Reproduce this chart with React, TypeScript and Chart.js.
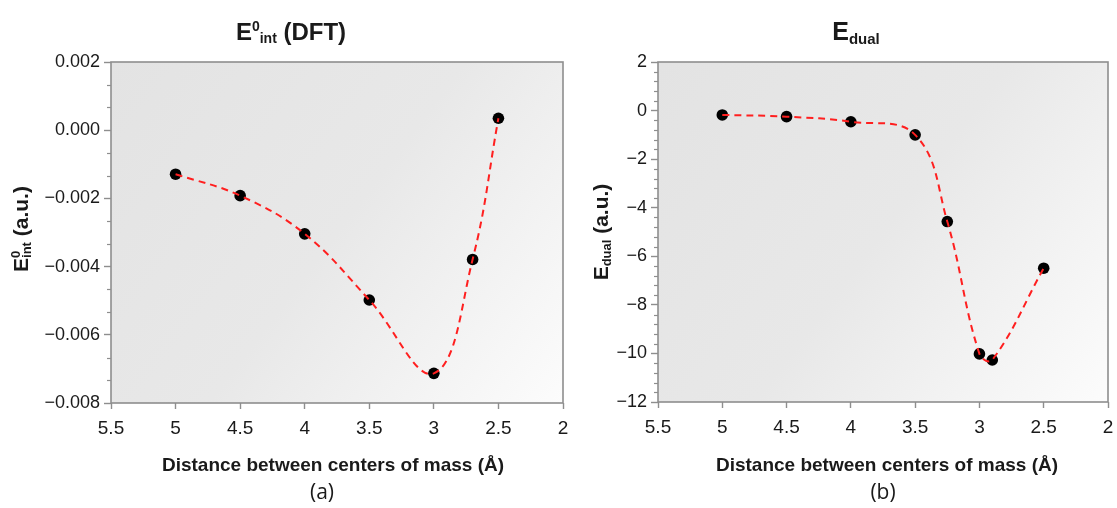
import React, { useEffect, useRef } from 'react';
import { Chart, registerables } from 'chart.js';

Chart.register(...registerables);

// ---------------- data ----------------
const distanceA = [5, 4.5, 4, 3.5, 3, 2.7, 2.5];
const energyDFT = [-0.00129, -0.00192, -0.00304, -0.00498, -0.00713, -0.00379, 0.00035];
const distanceB = [5, 4.5, 4, 3.5, 3.25, 3, 2.9, 2.5];
const energyDual = [-0.18, -0.25, -0.46, -1.0, -4.57, -10.02, -10.27, -6.49];
const xTickValues = [5.5, 5, 4.5, 4, 3.5, 3, 2.5, 2];
const yTicksA = [0.002, 0, -0.002, -0.004, -0.006, -0.008];
const yTicksB = [2, 0, -2, -4, -6, -8, -10, -12];
const xAxisTitle = 'Distance between centers of mass (Å)';
const captionA = '(a)';
const captionB = '(b)';

// ---------------- styling ----------------
const FAMILY = '"Liberation Sans", Arial, Helvetica, sans-serif';
const CAPTION_FAMILY = '"Open Sans", "Noto Sans", sans-serif';
const FRAME = '#8e8e8e';
const TEXT = '#1a1a1a';
const LINE_RED = '#ff1f1f';
const H = 508;

type Seg = { t: string; k?: 'sup' | 'sub'; stack?: boolean };

function drawRich(
  ctx: CanvasRenderingContext2D,
  segs: Seg[],
  x: number,
  y: number,
  size: number,
  weight: string,
) {
  const small = Math.round(size * 0.6);
  const font = (s: number) => `${weight} ${s}px ${FAMILY}`;
  const items: { t: string; k?: string; s: number; start: number }[] = [];
  let cursor = 0;
  let prevStart = 0;
  for (const sg of segs) {
    const s = sg.k ? small : size;
    ctx.font = font(s);
    const w = ctx.measureText(sg.t).width;
    const start = sg.stack ? prevStart : cursor;
    items.push({ t: sg.t, k: sg.k, s, start });
    cursor = sg.stack ? Math.max(cursor, start + w) : start + w;
    prevStart = start;
  }
  const x0 = x - cursor / 2;
  ctx.textAlign = 'left';
  ctx.textBaseline = 'alphabetic';
  ctx.fillStyle = TEXT;
  for (const it of items) {
    ctx.font = font(it.s);
    const dy = it.k === 'sup' ? -size * 0.36 : it.k === 'sub' ? size * 0.14 : 0;
    ctx.fillText(it.t, x0 + it.start, y + dy);
  }
}

interface Panel {
  left: number;
  width: number;
  plotLeft: number;
  plotRight: number;
  plotTop: number;
  plotBottom: number;
  xs: number[];
  ys: number[];
  yTicks: number[];
  minorDiv: number;
  fmt: (v: number) => string;
  title: Seg[];
  titleX: number;
  titleY: number;
  titleSize: number;
  yTitle: Seg[];
  yTitleX: number;
  yTitleY: number;
  yTitleSize: number;
  xTitleX: number;
  xTitleY: number;
  caption: string;
  captionX: number;
  captionY: number;
}

const minus = (v: number) => (v < 0 ? '\u2212' : '');

const panelA: Panel = {
  left: 0,
  width: 580,
  plotLeft: 111,
  plotRight: 563,
  plotTop: 62,
  plotBottom: 403,
  xs: distanceA,
  ys: energyDFT,
  yTicks: yTicksA,
  minorDiv: 3,
  fmt: (v) => (Math.abs(v) < 1e-12 ? '0.000' : minus(v) + Math.abs(v).toFixed(3)),
  title: [{ t: 'E' }, { t: '0', k: 'sup' }, { t: 'int', k: 'sub' }, { t: ' (DFT)' }],
  titleX: 291,
  titleY: 40,
  titleSize: 24,
  yTitle: [{ t: 'E' }, { t: '0', k: 'sup' }, { t: 'int', k: 'sub', stack: true }, { t: ' (a.u.)' }],
  yTitleX: 28,
  yTitleY: 229,
  yTitleSize: 21,
  xTitleX: 333,
  xTitleY: 466,
  caption: captionA,
  captionX: 322,
  captionY: 493,
};

const panelB: Panel = {
  left: 565,
  width: 552,
  plotLeft: 658,
  plotRight: 1108,
  plotTop: 62,
  plotBottom: 402,
  xs: distanceB,
  ys: energyDual,
  yTicks: yTicksB,
  minorDiv: 5,
  fmt: (v) => minus(v) + String(Math.abs(v)),
  title: [{ t: 'E' }, { t: 'dual', k: 'sub' }],
  titleX: 856,
  titleY: 40,
  titleSize: 25,
  yTitle: [{ t: 'E' }, { t: 'dual', k: 'sub' }, { t: ' (a.u.)' }],
  yTitleX: 608,
  yTitleY: 232,
  yTitleSize: 21,
  xTitleX: 887,
  xTitleY: 466,
  caption: captionB,
  captionX: 883,
  captionY: 493,
};

function makeDecor(p: Panel) {
  return {
    id: 'decor',
    beforeDatasetsDraw(chart: any) {
      const { ctx, chartArea: a } = chart;
      ctx.save();
      const g = ctx.createLinearGradient(a.left, a.top, a.right, a.bottom);
      g.addColorStop(0, '#e3e3e3');
      g.addColorStop(0.5, '#e8e8e8');
      g.addColorStop(1, '#fcfcfc');
      ctx.fillStyle = g;
      ctx.fillRect(a.left, a.top, a.right - a.left, a.bottom - a.top);
      ctx.restore();
    },
    afterDraw(chart: any) {
      const { ctx, chartArea: a } = chart;
      const yScale = chart.scales.y;
      ctx.save();
      // frame
      ctx.strokeStyle = FRAME;
      ctx.lineWidth = 1.6;
      ctx.strokeRect(a.left, a.top, a.right - a.left, a.bottom - a.top);
      // minor ticks on y
      ctx.lineWidth = 1.2;
      const ticks = p.yTicks.slice().sort((m, n) => m - n);
      for (let i = 0; i < ticks.length - 1; i++) {
        const step = (ticks[i + 1] - ticks[i]) / p.minorDiv;
        for (let j = 1; j < p.minorDiv; j++) {
          const py = Math.round(yScale.getPixelForValue(ticks[i] + step * j)) + 0.5;
          ctx.beginPath();
          ctx.moveTo(a.left - 4, py);
          ctx.lineTo(a.left, py);
          ctx.stroke();
        }
      }
      // title
      drawRich(ctx, p.title, p.titleX - p.left, p.titleY, p.titleSize, 'bold');
      // y title
      ctx.save();
      ctx.translate(p.yTitleX - p.left, p.yTitleY);
      ctx.rotate(-Math.PI / 2);
      drawRich(ctx, p.yTitle, 0, 0, p.yTitleSize, 'bold');
      ctx.restore();
      // x title
      ctx.fillStyle = TEXT;
      ctx.textAlign = 'center';
      ctx.textBaseline = 'middle';
      ctx.font = `bold 19px ${FAMILY}`;
      ctx.fillText(xAxisTitle, p.xTitleX - p.left, p.xTitleY);
      // caption
      ctx.font = `21px ${CAPTION_FAMILY}`;
      ctx.fillText(p.caption, p.captionX - p.left, p.captionY);
      ctx.restore();
    },
  };
}

function buildChart(canvas: HTMLCanvasElement, p: Panel) {
  const pts = p.xs.map((x, i) => ({ x, y: p.ys[i] }));
  const yMin = Math.min(...p.yTicks);
  const yMax = Math.max(...p.yTicks);
  return new Chart(canvas, {
    type: 'scatter',
    data: {
      datasets: [
        {
          label: 'curve',
          data: pts,
          showLine: true,
          borderColor: LINE_RED,
          borderWidth: 2,
          borderDash: [7, 5],
          tension: 0.4,
          pointRadius: 0,
          pointHoverRadius: 0,
          fill: false,
          order: 0,
        },
        {
          label: 'points',
          data: pts,
          showLine: false,
          pointRadius: 5.8,
          pointBackgroundColor: '#000000',
          pointBorderColor: '#000000',
          pointBorderWidth: 0,
          order: 1,
        },
      ],
    },
    options: {
      animation: false,
      responsive: false,
      maintainAspectRatio: false,
      events: [],
      layout: {
        padding: {
          left: 0,
          top: p.plotTop,
          right: p.width - (p.plotRight - p.left),
          bottom: 0,
        },
      },
      plugins: {
        legend: { display: false },
        tooltip: { enabled: false },
        title: { display: false },
      },
      scales: {
        x: {
          type: 'linear',
          reverse: true,
          min: Math.min(...xTickValues),
          max: Math.max(...xTickValues),
          afterBuildTicks: (s: any) => {
            s.ticks = xTickValues.map((v) => ({ value: v }));
          },
          afterFit: (s: any) => {
            s.height = H - p.plotBottom;
            s.paddingLeft = 0;
            s.paddingRight = 0;
          },
          ticks: {
            autoSkip: false,
            maxRotation: 0,
            minRotation: 0,
            padding: 8,
            color: TEXT,
            font: { family: FAMILY, size: 19 },
            callback: (v: any) => String(v),
          },
          grid: {
            display: true,
            drawOnChartArea: false,
            drawTicks: true,
            tickLength: 6,
            tickColor: FRAME,
            tickWidth: 1.4,
          },
          border: { display: false },
        },
        y: {
          type: 'linear',
          min: yMin,
          max: yMax,
          afterBuildTicks: (s: any) => {
            s.ticks = p.yTicks.map((v) => ({ value: v }));
          },
          afterFit: (s: any) => {
            s.width = p.plotLeft - p.left;
            s.paddingTop = 0;
            s.paddingBottom = 0;
          },
          ticks: {
            autoSkip: false,
            padding: 4,
            color: TEXT,
            font: { family: FAMILY, size: 18 },
            callback: (v: any) => p.fmt(Number(v)),
          },
          grid: {
            display: true,
            drawOnChartArea: false,
            drawTicks: true,
            tickLength: 7,
            tickColor: FRAME,
            tickWidth: 1.4,
          },
          border: { display: false },
        },
      },
    },
    plugins: [makeDecor(p)],
  } as any);
}

function PanelCanvas({ p }: { p: Panel }) {
  const ref = useRef<HTMLCanvasElement | null>(null);
  useEffect(() => {
    if (!ref.current) return;
    const chart = buildChart(ref.current, p);
    return () => chart.destroy();
  }, [p]);
  return (
    <canvas
      ref={ref}
      width={p.width}
      height={H}
      style={{ position: 'absolute', left: p.left, top: 0, width: p.width, height: H }}
    />
  );
}

export default function App() {
  return (
    <div
      style={{
        position: 'absolute',
        left: 0,
        top: 0,
        width: 1117,
        height: H,
        background: '#ffffff',
        overflow: 'hidden',
      }}
    >
      <PanelCanvas p={panelA} />
      <PanelCanvas p={panelB} />
    </div>
  );
}
